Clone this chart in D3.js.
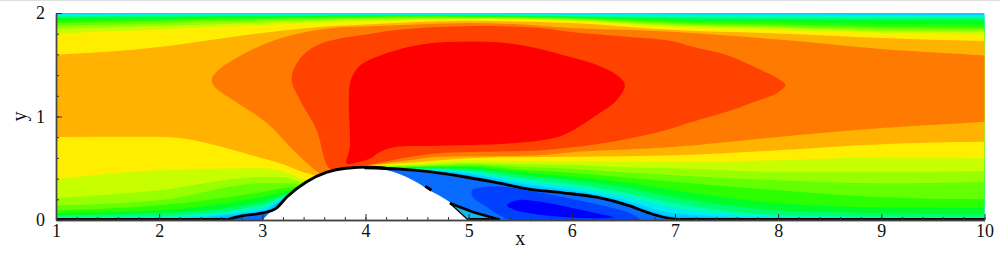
<!DOCTYPE html>
<html>
<head>
<meta charset="utf-8">
<script src="https://cdn.jsdelivr.net/npm/d3@7"></script>
<style>
  html, body { margin: 0; padding: 0; background: #fff; overflow: hidden; }
  text { font-family: "Liberation Serif", "Times New Roman", serif; fill: #111; }
</style>
</head>
<body>
<div id="chart"></div>
<script>
// contour levels, low to high speed
const baseColor = "#00b4ff";
const bandColors = ["#00d0ff", "#00ecf0", "#00ffb4", "#00ff70", "#00ff28", "#2cff00", "#64ff00", "#98ff00", "#c8ff00", "#ffee00", "#ffb200"];
const closedColors = ["#ff7a00", "#ff4200", "#ff0000"];
const blueColor = "#0a6cff";
const deepColors = ["#0040ff", "#0000ff"];
const pocketColor = "#12b6f4";

const xMajor = [1, 2, 3, 4, 5, 6, 7, 8, 9, 10];
const yMajor = [0, 1, 2];

// y of each band's upper edge at these x stations
const upperX = [1, 2, 2.5, 3, 3.5, 4, 4.5, 5, 5.5, 6, 7, 8, 9, 10];
const upper0 = [2, 2, 2, 2, 2, 2, 2, 2, 2, 2, 2, 2, 2, 2];
const upper1 = [1.990, 1.992, 1.993, 1.994, 1.995, 1.996, 1.997, 1.997, 1.996, 1.995, 1.990, 1.987, 1.984, 1.981];
const upper2 = [1.981, 1.984, 1.985, 1.985, 1.986, 1.986, 1.986, 1.985, 1.985, 1.981, 1.976, 1.971, 1.968, 1.966];
const upper3 = [1.966, 1.973, 1.975, 1.977, 1.979, 1.980, 1.980, 1.979, 1.977, 1.971, 1.961, 1.956, 1.952, 1.952];
const upper4 = [1.952, 1.961, 1.965, 1.968, 1.971, 1.973, 1.974, 1.973, 1.971, 1.964, 1.947, 1.937, 1.932, 1.932];
const upper5 = [1.927, 1.942, 1.952, 1.957, 1.964, 1.968, 1.970, 1.968, 1.965, 1.956, 1.927, 1.913, 1.894, 1.889];
const upper6 = [1.903, 1.923, 1.934, 1.942, 1.952, 1.960, 1.963, 1.961, 1.959, 1.949, 1.908, 1.889, 1.864, 1.855];
const upper7 = [1.874, 1.898, 1.915, 1.927, 1.939, 1.949, 1.955, 1.955, 1.952, 1.942, 1.894, 1.870, 1.845, 1.835];
const upper8 = [1.845, 1.874, 1.889, 1.906, 1.923, 1.934, 1.944, 1.949, 1.945, 1.932, 1.879, 1.855, 1.826, 1.816];
const upper9 = [1.802, 1.840, 1.864, 1.884, 1.903, 1.918, 1.932, 1.942, 1.937, 1.923, 1.864, 1.835, 1.806, 1.792];
const upper10 = [1.596, 1.671, 1.739, 1.806, 1.860, 1.889, 1.913, 1.925, 1.918, 1.903, 1.835, 1.802, 1.758, 1.729];

// y of each band's lower edge at these x stations (they dip under the hill where a band ends on it)
const lowerX = [1, 2, 3, 3.2, 3.4, 3.75, 4, 4.5, 5, 5.5, 6, 6.5, 7, 8, 9, 10];
const lower0 = [.012, .007, .075, .191, .249, .229, .499, .481, .433, .336, .263, .167, .036, .007, 0, 0];
const lower1 = [.016, .016, .094, .200, .258, .239, .500, .486, .447, .355, .288, .196, .065, .016, .007, .007];
const lower2 = [.021, .026, .113, .210, .268, .249, .502, .491, .462, .379, .317, .229, .113, .031, .016, .012];
const lower3 = [.031, .041, .142, .225, .278, .258, .504, .496, .476, .404, .346, .268, .162, .050, .031, .026];
const lower4 = [.045, .065, .174, .244, .288, .268, .506, .503, .494, .433, .384, .317, .220, .094, .065, .055];
const lower5 = [.065, .094, .223, .268, .307, .288, .508, .510, .510, .462, .418, .365, .288, .162, .123, .118];
const lower6 = [.094, .142, .271, .307, .326, .307, .510, .515, .525, .486, .457, .413, .368, .288, .220, .200];
const lower7 = [.142, .191, .355, .355, .346, .326, .512, .522, .539, .515, .496, .462, .433, .384, .355, .368];
const lower8 = [.210, .288, .416, .413, .365, .346, .514, .530, .554, .539, .534, .510, .500, .465, .465, .471];
const lower9 = [.394, .481, .500, .471, .394, .365, .517, .544, .578, .568, .568, .563, .561, .578, .607, .597];
const lower10 = [.803, .805, .597, .539, .462, .404, .520, .559, .597, .607, .612, .617, .626, .675, .733, .755];

const bandUpper = [upper0, upper1, upper2, upper3, upper4, upper5, upper6, upper7, upper8, upper9, upper10];
const bandLower = [lower0, lower1, lower2, lower3, lower4, lower5, lower6, lower7, lower8, lower9, lower10];

// closed contours, the orange one runs out past x=10 and gets clipped
const orangeX = [2.509, 2.557, 2.715, 3.045, 3.364, 3.752, 4, 4.5, 5, 5.5, 6, 7, 8, 9, 10, 10.6, 10.6, 10, 9, 8, 7, 6, 5.69, 4.72, 4.5, 4, 3.75, 3.61, 3.54, 3.30, 3.045, 2.715, 2.55];
const orangeY = [1.352, 1.433, 1.546, 1.710, 1.804, 1.862, 1.870, 1.890, 1.904, 1.890, 1.856, 1.817, 1.744, 1.652, 1.590, 1.55, .99, .949, .888, .803, .707, .655, .626, .610, .588, .525, .481, .423, .462, .675, .936, 1.159, 1.275];
const scarletX = [3.284, 3.316, 3.413, 3.558, 3.752, 3.975, 4.304, 4.944, 5.69, 6, 6.56, 6.95, 7.17, 7.50, 7.82, 7.99, 8.07, 7.99, 7.82, 7.50, 7.17, 6.85, 6.56, 6.24, 5.69, 4.72, 4.5, 4, 3.80, 3.655, 3.607, 3.526, 3.364];
const scarletY = [1.352, 1.481, 1.611, 1.700, 1.754, 1.788, 1.836, 1.872, 1.856, 1.817, 1.769, 1.733, 1.675, 1.594, 1.456, 1.372, 1.304, 1.227, 1.159, 1.045, .949, .852, .788, .733, .675, .646, .621, .530, .500, .496, .578, .868, 1.159];
const redX = [3.817, 3.849, 3.839, 3.849, 3.897, 3.975, 4.304, 4.624, 4.944, 5.273, 5.593, 5.913, 6.242, 6.436, 6.514, 6.436, 6.242, 5.913, 5.593, 5.273, 4.944, 4.624, 4.304, 4.140, 4.043, 3.926];
const redY = [.546, .707, 1.094, 1.320, 1.433, 1.514, 1.643, 1.708, 1.723, 1.717, 1.675, 1.594, 1.498, 1.401, 1.304, 1.159, 1.014, .820, .755, .733, .723, .716, .707, .658, .594, .559];

// recirculation bubble
const sepX = [3.99, 4.333, 4.653, 4.983, 5.273, 5.593, 5.913, 6.242, 6.562, 6.756, 6.882, 7.046];
const sepY = [.505, .491, .462, .413, .360, .297, .263, .220, .136, .065, .029, .002];
const midBlueX = [5.031, 5.109, 5.273, 5.593, 5.913, 6.242, 6.562, 6.659, 5.399, 5.302, 5.176, 5.041];
const midBlueY = [.288, .312, .326, .281, .223, .152, .065, .002, .002, .045, .126, .223];
const deepBlueX = [5.37, 5.467, 5.661, 5.913, 6.242, 6.397, 6.271, 5.913, 5.593, 5.428];
const deepBlueY = [.142, .191, .181, .136, .065, .026, .016, .029, .065, .104];
const pocketX = [4.818, 5.041, 5.302, 4.992];
const pocketY = [.162, .077, .002, .002];

// hill and the thick sonic line on it
const hillX = [3, 3.1, 3.25, 3.45, 3.65, 3.85, 4, 4.21, 4.46, 4.62, 4.79, 4.94, 4.99];
const hillY = [0, .1, .225, .37, .46, .5, .51, .48, .384, .288, .191, .065, 0];
const leftLineX = [2.65, 2.8, 3, 3.13, 3.24, 3.43, 3.62, 3.81, 4.04, 4.2];
const leftLineY = [0, .04, .068, .11, .225, .37, .46, .5, .51, .5];

const margin = { top: 13, left: 56, right: 15.5, bottom: 36 };
const width = 1000;
const height = 256;

const x = d3.scaleLinear().domain([1, 10]).range([margin.left, width - margin.right]);
const y = d3.scaleLinear().domain([0, 2]).range([height - margin.bottom, margin.top]);

const zip = (xs, ys) => xs.map((d, i) => [d, ys[i]]);
const outline = d3.line().x((d) => x(d[0])).y((d) => y(d[1]));
const smoothClosed = d3.line().x((d) => x(d[0])).y((d) => y(d[1])).curve(d3.curveCatmullRomClosed.alpha(0.5));
const edge = d3.line().x((d) => x(d[0])).y((d) => y(d[1])).curve(d3.curveMonotoneX);

const svg = d3.select("#chart").append("svg").attr("width", width).attr("height", height);

svg.append("rect").attr("width", width).attr("height", 1).attr("fill", "#dedede");

svg.append("clipPath").attr("id", "plot")
  .append("rect")
  .attr("x", x(1)).attr("y", y(2))
  .attr("width", x(10) - x(1)).attr("height", y(0) - y(2));

const field = svg.append("g").attr("clip-path", "url(#plot)");

field.append("rect")
  .attr("x", x(1)).attr("y", y(2))
  .attr("width", x(10) - x(1)).attr("height", y(0) - y(2))
  .attr("fill", baseColor);

// each band covers everything between its two edges, higher levels paint over
bandColors.forEach((color, k) => {
  const top = edge(zip(upperX, bandUpper[k]));
  const bottom = edge(zip(lowerX, bandLower[k]).reverse());
  field.append("path")
    .attr("d", top + "L" + bottom.slice(1) + "Z")
    .attr("fill", color);
});

[[orangeX, orangeY], [scarletX, scarletY], [redX, redY]].forEach((c, i) => {
  field.append("path").attr("d", smoothClosed(zip(c[0], c[1]))).attr("fill", closedColors[i]);
});

// blue under the sonic line
const bubble = d3.area().x((d) => x(d[0])).y0(y(0)).y1((d) => y(d[1])).curve(d3.curveMonotoneX);
field.append("path").attr("d", bubble(zip(sepX, sepY))).attr("fill", blueColor);
field.append("path").attr("d", bubble(zip(leftLineX.slice(0, 5), leftLineY.slice(0, 5)))).attr("fill", blueColor);
field.append("path").attr("d", smoothClosed(zip(midBlueX, midBlueY))).attr("fill", deepColors[0]);
field.append("path").attr("d", smoothClosed(zip(deepBlueX, deepBlueY))).attr("fill", deepColors[1]);

// hill is blank
svg.append("path")
  .attr("d", d3.area().x((d) => x(d[0])).y0(y(0)).y1((d) => y(d[1])).curve(d3.curveMonotoneX)(zip(hillX, hillY)))
  .attr("fill", "#fff");

svg.append("path").attr("d", outline(zip(pocketX, pocketY)) + "Z").attr("fill", pocketColor);

// thick black lines
const thick = (d, w) => svg.append("path").attr("d", d).attr("fill", "none")
  .attr("stroke", "#000").attr("stroke-width", w).attr("stroke-linejoin", "round");
thick(edge(zip(leftLineX, leftLineY)), 2.8);
thick(edge(zip(sepX, sepY)), 2.8);
thick(outline(zip(pocketX.slice(0, 3), pocketY.slice(0, 3))), 2.6);
thick(outline(zip([pocketX[0], pocketX[3]], [pocketY[0], pocketY[3]])), 1.2);
thick(outline([[pocketX[3], .004], [pocketX[2], .004]]), 3);
thick(outline([[4.58, .326], [4.64, .288]]), 3);
thick(outline([[1, .004], [leftLineX[0], .004]]), 3);
thick(outline([[sepX[sepX.length - 1], .004], [10, .004]]), 3);

// axes, ticks point into the plot
const minorOf = (a, b) => d3.range(a, b + 1e-6, 0.2).map((d) => +d.toFixed(1));

const xAxis = d3.axisBottom(x).tickValues(xMajor).tickSizeInner(-6).tickSizeOuter(0).tickPadding(4).tickFormat(d3.format("d"));
const yAxis = d3.axisLeft(y).tickValues(yMajor).tickSizeInner(-6).tickSizeOuter(0).tickPadding(11).tickFormat(d3.format("d"));
const xMinor = d3.axisBottom(x).tickValues(minorOf(1, 10)).tickSizeInner(-3).tickSizeOuter(0).tickFormat("");
const yMinor = d3.axisLeft(y).tickValues(minorOf(0, 2)).tickSizeInner(-3).tickSizeOuter(0).tickFormat("");

const gx = svg.append("g").attr("transform", `translate(0,${y(0)})`);
gx.append("g").call(xMinor);
gx.append("g").call(xAxis);
const gy = svg.append("g").attr("transform", `translate(${x(1)},0)`);
gy.append("g").call(yMinor);
gy.append("g").call(yAxis);

svg.selectAll(".domain").attr("stroke", "#444").attr("stroke-width", 1.4);
svg.selectAll(".tick line").attr("stroke", "#333").attr("stroke-width", 1);
svg.selectAll(".tick text").style("font-size", "18px").style("font-family", "'Liberation Serif', serif").attr("fill", "#111");

svg.append("text")
  .attr("x", x(5.5)).attr("y", 245)
  .attr("text-anchor", "middle")
  .style("font-size", "20px")
  .text("x");
svg.append("text")
  .attr("transform", `translate(26,${y(1)}) rotate(-90)`)
  .attr("text-anchor", "middle")
  .style("font-size", "20px")
  .text("y");
</script>
</body>
</html>
